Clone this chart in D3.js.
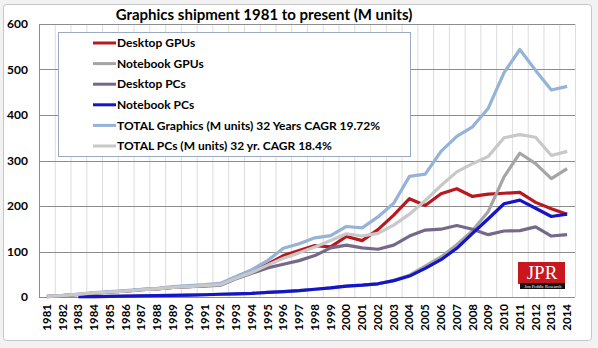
<!DOCTYPE html>
<html>
<head>
<meta charset="utf-8">
<script src="https://cdn.jsdelivr.net/npm/d3@7"></script>
<style>
  html, body { margin: 0; padding: 0; background: #f2f2f2; }
  svg { display: block; }
</style>
</head>
<body>
<div id="chart"></div>
<script>
const years = d3.range(1981, 2015).map(String);
const yTicks = [0, 100, 200, 300, 400, 500, 600];
const titleText = 'Graphics shipment 1981 to present (M units)';

const seriesNames = [
  'Desktop GPUs',
  'Notebook GPUs',
  'Desktop PCs',
  'Notebook PCs',
  'TOTAL Graphics (M units) 32 Years CAGR 19.72%',
  'TOTAL PCs (M units) 32 yr. CAGR 18.4%',
];

const desktopGPUs = [1, 3, 5.5, 8.5, 11, 13, 16, 18, 21, 23, 25, 28, 42, 55, 72, 91, 102, 113, 110, 133,
  124, 148, 180, 216, 201, 227, 238, 221, 226, 228, 230, 208, 194, 182];
const notebookGPUs = [null, null, 0.5, 1, 1.5, 2, 2.5, 3, 3.5, 4, 5, 6, 7, 8, 10, 12, 14, 17, 20, 24,
  26, 29, 36, 48, 68, 88, 115, 146, 188, 264, 316, 293, 260, 282];
const desktopPCs = [1.5, 3, 5.5, 8.5, 11, 13, 16, 18, 21, 23, 24, 26, 40, 52, 64, 72, 80, 91, 108, 114,
  108, 105, 114, 134, 147, 149, 157, 149, 137, 145, 146, 154, 134, 137];
const notebookPCs = [null, null, 0.5, 1, 1.5, 2, 2.5, 3, 3.5, 4, 5, 6, 7, 8, 10, 12, 14, 17, 20, 24,
  26, 29, 36, 46, 63, 82, 107, 140, 172, 205, 213, 195, 177, 182];
const totalGraphics = [1.5, 3.5, 6.5, 9.5, 12, 14, 17, 19, 23, 25, 27, 30, 45, 60, 80, 107, 117, 130, 135, 155,
  152, 176, 206, 265, 270, 320, 353, 374, 415, 493, 544, 498, 455, 463];
const totalPCs = [1.5, 3, 6, 9, 11, 13, 16, 18, 21, 23, 25, 27, 41, 54, 70, 85, 97, 110, 124, 139,
  134, 140, 158, 182, 212, 245, 275, 293, 309, 350, 357, 351, 311, 320];

const seriesValues = [desktopGPUs, notebookGPUs, desktopPCs, notebookPCs, totalGraphics, totalPCs];
const seriesColors = ['#b8191f', '#a5a5a5', '#76688a', '#1414c8', '#95b3d7', '#c8c8c8'];

const W = 598, H = 348;
const margin = { top: 24, right: 23, bottom: 51, left: 39 };

const svg = d3.select('#chart').append('svg')
  .attr('width', W)
  .attr('height', H);

// chart frame
svg.append('rect')
  .attr('x', 3.5).attr('y', 4.5)
  .attr('width', 588).attr('height', 336)
  .attr('rx', 3)
  .attr('fill', '#ffffff')
  .attr('stroke', '#c6c6c6');

const x = d3.scaleBand()
  .domain(years)
  .range([margin.left, W - margin.right]);

const y = d3.scaleLinear()
  .domain([0, 600])
  .range([H - margin.bottom, margin.top]);

// vertical gridlines at category boundaries
svg.append('g')
  .selectAll('line')
  .data(years.slice(1).concat(['end']))
  .join('line')
  .attr('x1', (d) => (d === 'end' ? x.range()[1] : x(d)) + 0.5)
  .attr('x2', (d) => (d === 'end' ? x.range()[1] : x(d)) + 0.5)
  .attr('y1', y(600))
  .attr('y2', y(0))
  .attr('stroke', '#dcdcdc')
  .attr('stroke-width', 1);

// horizontal gridlines
svg.append('g')
  .selectAll('line')
  .data(yTicks)
  .join('line')
  .attr('x1', margin.left)
  .attr('x2', W - margin.right)
  .attr('y1', (d) => Math.round(y(d)) + 0.5)
  .attr('y2', (d) => Math.round(y(d)) + 0.5)
  .attr('stroke', '#8c8c8c')
  .attr('stroke-width', 1);

// left axis line
svg.append('line')
  .attr('x1', margin.left + 0.5).attr('x2', margin.left + 0.5)
  .attr('y1', y(600)).attr('y2', y(0))
  .attr('stroke', '#8c8c8c');

// y labels
svg.append('g')
  .selectAll('text')
  .data(yTicks)
  .join('text')
  .attr('x', 28)
  .attr('y', (d) => y(d))
  .attr('dy', '0.35em')
  .attr('text-anchor', 'end')
  .attr('font-family', 'Lato, "Liberation Sans", sans-serif')
  .attr('font-weight', 'bold')
  .attr('font-size', '12px')
  .attr('fill', '#000')
  .text((d) => d);

// x labels (rotated)
svg.append('g')
  .selectAll('text')
  .data(years)
  .join('text')
  .attr('transform', (d) => `translate(${x(d) + x.bandwidth() / 2 + 4},304) rotate(-90)`)
  .attr('text-anchor', 'end')
  .attr('font-family', 'Lato, "Liberation Sans", sans-serif')
  .attr('font-weight', 'bold')
  .attr('font-size', '11.5px')
  .attr('fill', '#000')
  .text((d) => d);

// JPR logo
const logo = svg.append('g').attr('transform', 'translate(518,262)');
logo.append('rect').attr('width', 47).attr('height', 22).attr('fill', '#c8171d');
logo.append('rect').attr('x', 2).attr('y', 21).attr('width', 45).attr('height', 6).attr('fill', '#111');
logo.append('text')
  .attr('x', 24).attr('y', 17)
  .attr('text-anchor', 'middle')
  .attr('font-family', '"Liberation Serif", "DejaVu Serif", serif')
  .attr('font-size', '19px')
  .attr('fill', '#fff')
  .text('JPR');
logo.append('text')
  .attr('x', 25).attr('y', 26)
  .attr('text-anchor', 'middle')
  .attr('font-family', '"Liberation Serif", serif')
  .attr('font-size', '4.5px')
  .attr('fill', '#fff')
  .text('Jon Peddie Research');

// lines
const line = d3.line()
  .defined((d) => d.v != null)
  .x((d) => x(d.year) + x.bandwidth() / 2)
  .y((d) => y(d.v));

const series = seriesNames.map((name, i) => ({
  name,
  color: seriesColors[i],
  values: years.map((year, j) => ({ year, v: seriesValues[i][j] })),
}));

svg.append('g')
  .selectAll('path')
  .data(series)
  .join('path')
  .attr('fill', 'none')
  .attr('stroke', (d) => d.color)
  .attr('stroke-width', 3.2)
  .attr('stroke-linejoin', 'round')
  .attr('d', (d) => line(d.values));

// legend
const legend = svg.append('g');
legend.append('rect')
  .attr('x', 58.5).attr('y', 32.5)
  .attr('width', 352).attr('height', 124)
  .attr('fill', '#fff')
  .attr('stroke', '#9aaac0');

const items = legend.selectAll('g.item')
  .data(series)
  .join('g')
  .attr('class', 'item')
  .attr('transform', (d, i) => `translate(0,${43 + i * 20.6})`);

items.append('line')
  .attr('x1', 93).attr('x2', 116)
  .attr('stroke', (d) => d.color)
  .attr('stroke-width', 3);

items.append('text')
  .attr('x', 117)
  .attr('dy', '0.35em')
  .attr('font-family', 'Lato, "Liberation Sans", sans-serif')
  .attr('font-weight', 'bold')
  .attr('font-size', '12px')
  .attr('fill', '#000')
  .text((d) => d.name);

// title
svg.append('text')
  .attr('x', 264)
  .attr('y', 20)
  .attr('text-anchor', 'middle')
  .attr('font-family', 'Lato, "Liberation Sans", sans-serif')
  .attr('font-weight', 'bold')
  .attr('font-size', '15px')
  .attr('fill', '#000')
  .text(titleText);
</script>
</body>
</html>
